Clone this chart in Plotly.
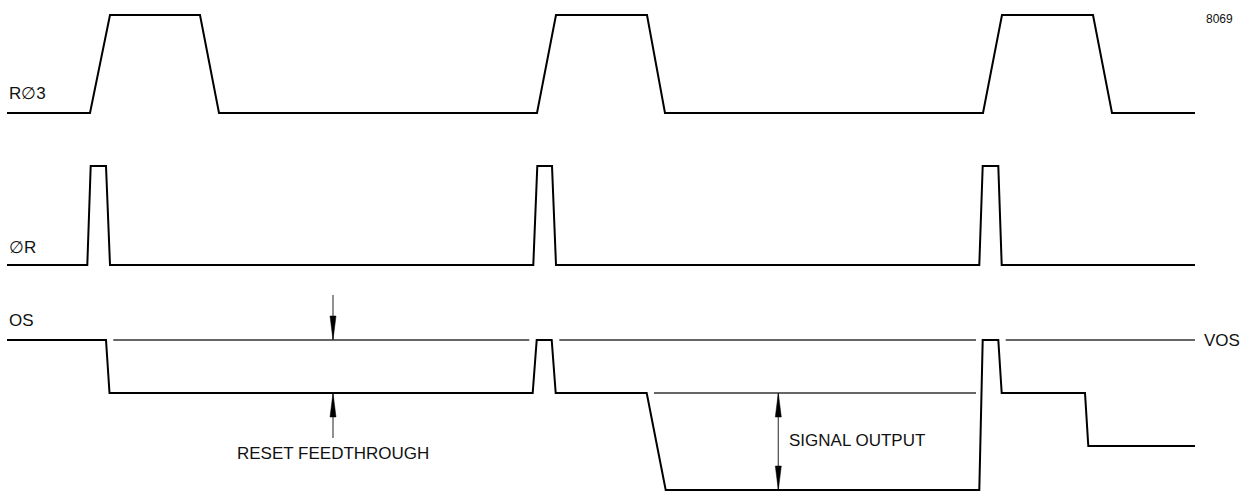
import plotly.graph_objects as go

W, H = 1248, 491

# ---- signal data (time axis in drawing units, level axis downward) ----
# R∅3 clock
r3_t = [7, 90, 110, 200, 219, 537, 556, 647, 665, 983, 1002, 1093, 1112, 1195]
r3_v = [113, 113, 15, 15, 113, 113, 15, 15, 113, 113, 15, 15, 113, 113]

# ∅R reset clock
rr_t = [7, 87.3, 90.7, 106, 110, 533.3, 537.3, 552, 556, 979.3, 982.7, 998.3, 1001.7, 1195]
rr_v = [265, 265, 166, 166, 265, 265, 166, 166, 265, 265, 166, 166, 265, 265]

# OS output
os_t = [7, 106, 109.5, 532.7, 536.7, 551.7, 555.7, 646.7, 665.7, 979.3, 982.7, 998.3, 1001.7, 1085, 1088.3, 1195]
os_v = [340, 340, 393, 393, 340, 340, 393, 393, 490, 490, 340, 340, 393, 393, 446, 446]

# reference levels (thin lines)
vos_level = 340
vos_segments = [(113.3, 529.3), (559.3, 976), (1005.7, 1195)]
reset_level = 393
reset_segments = [(654, 976)]

# dimension arrows: (x, tip level, direction +1 = pointing down)
arrow_heads = [(333, 340, 1), (333, 393, -1), (778.3, 393, -1), (778.3, 490, 1)]
arrow_stems = [(333, 295, 340), (333, 393, 438), (778.3, 393, 490)]
HEAD_LEN, HEAD_HALF_W = 24, 3.0

labels = [
    ("R∅3", 7, 93, "left", 17),
    ("∅R", 7, 247, "left", 17),
    ("OS", 7, 320, "left", 17),
    ("VOS", 1202, 340, "left", 17),
    ("RESET FEEDTHROUGH", 332.5, 453, "center", 17),
    ("SIGNAL OUTPUT", 787, 440, "left", 17),
    ("8069", 1204, 19, "left", 12),
]

fig = go.Figure()

# reference lines
ref_x, ref_y = [], []
for a, b in vos_segments:
    ref_x += [a, b, None]
    ref_y += [vos_level, vos_level, None]
for a, b in reset_segments:
    ref_x += [a, b, None]
    ref_y += [reset_level, reset_level, None]
fig.add_trace(go.Scatter(x=ref_x, y=ref_y, mode="lines",
                         line=dict(color="#333333", width=1.3), hoverinfo="skip"))

# arrow stems
st_x, st_y = [], []
for x, y0, y1 in arrow_stems:
    st_x += [x, x, None]
    st_y += [y0, y1, None]
fig.add_trace(go.Scatter(x=st_x, y=st_y, mode="lines",
                         line=dict(color="#555555", width=1.3), hoverinfo="skip"))

# arrow heads
for x, tip, d in arrow_heads:
    base = tip - d * HEAD_LEN
    fig.add_trace(go.Scatter(x=[x - HEAD_HALF_W, x + HEAD_HALF_W, x, x - HEAD_HALF_W],
                             y=[base, base, tip, base], mode="lines", fill="toself",
                             fillcolor="black", line=dict(color="black", width=0.5),
                             hoverinfo="skip"))

# signal traces
for t, v in [(r3_t, r3_v), (rr_t, rr_v), (os_t, os_v)]:
    fig.add_trace(go.Scatter(x=t, y=v, mode="lines",
                             line=dict(color="black", width=2), hoverinfo="skip"))

for text, x, y, anchor, size in labels:
    fig.add_annotation(x=x, y=y, text=text, showarrow=False, xanchor=anchor,
                       yanchor="middle", xref="x", yref="y",
                       font=dict(family="Liberation Sans, Arial, sans-serif",
                                 size=size, color="#111111"))

fig.update_layout(
    width=W, height=H,
    margin=dict(l=0, r=0, t=0, b=0),
    paper_bgcolor="white", plot_bgcolor="white",
    showlegend=False,
    xaxis=dict(range=[0, W], visible=False, fixedrange=True),
    yaxis=dict(range=[H, 0], visible=False, fixedrange=True),
)

fig.write_html(
    "out.html",
    config={"displayModeBar": False},
    post_script="document.body.style.margin='0';document.body.style.overflow='hidden';",
)
